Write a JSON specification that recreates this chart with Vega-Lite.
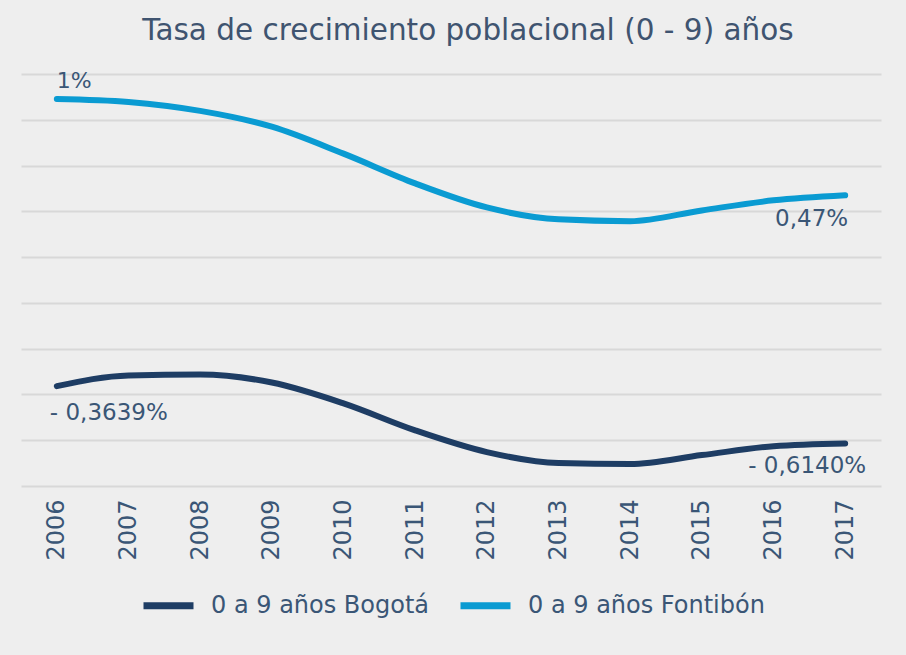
{
  "$schema": "https://vega.github.io/schema/vega-lite/v6.json",
  "autosize": {"type": "none"},
  "width": 860,
  "height": 412,
  "padding": {"top": 74, "left": 21, "right": 25, "bottom": 169},
  "background": "#eeeeee",
  "title": {
    "text": "Tasa de crecimiento poblacional (0 - 9) años",
    "font": "DejaVu Sans",
    "fontSize": 29.5,
    "fontWeight": "normal",
    "color": "#3f5470",
    "anchor": "middle",
    "dx": 17,
    "offset": 23
  },
  "config": {
    "view": {"stroke": null},
    "font": "DejaVu Sans"
  },
  "datasets": {
    "series": [
      {"year": "2006", "serie": "0 a 9 años Bogotá", "value": -0.3639},
      {"year": "2007", "serie": "0 a 9 años Bogotá", "value": -0.317},
      {"year": "2008", "serie": "0 a 9 años Bogotá", "value": -0.313},
      {"year": "2009", "serie": "0 a 9 años Bogotá", "value": -0.348},
      {"year": "2010", "serie": "0 a 9 años Bogotá", "value": -0.439},
      {"year": "2011", "serie": "0 a 9 años Bogotá", "value": -0.557},
      {"year": "2012", "serie": "0 a 9 años Bogotá", "value": -0.652},
      {"year": "2013", "serie": "0 a 9 años Bogotá", "value": -0.700},
      {"year": "2014", "serie": "0 a 9 años Bogotá", "value": -0.704},
      {"year": "2015", "serie": "0 a 9 años Bogotá", "value": -0.665},
      {"year": "2016", "serie": "0 a 9 años Bogotá", "value": -0.626},
      {"year": "2017", "serie": "0 a 9 años Bogotá", "value": -0.614},
      {"year": "2006", "serie": "0 a 9 años Fontibón", "value": 0.891},
      {"year": "2007", "serie": "0 a 9 años Fontibón", "value": 0.878},
      {"year": "2008", "serie": "0 a 9 años Fontibón", "value": 0.839},
      {"year": "2009", "serie": "0 a 9 años Fontibón", "value": 0.770},
      {"year": "2010", "serie": "0 a 9 años Fontibón", "value": 0.652},
      {"year": "2011", "serie": "0 a 9 años Fontibón", "value": 0.522},
      {"year": "2012", "serie": "0 a 9 años Fontibón", "value": 0.417},
      {"year": "2013", "serie": "0 a 9 años Fontibón", "value": 0.365},
      {"year": "2014", "serie": "0 a 9 años Fontibón", "value": 0.357},
      {"year": "2015", "serie": "0 a 9 años Fontibón", "value": 0.404},
      {"year": "2016", "serie": "0 a 9 años Fontibón", "value": 0.448},
      {"year": "2017", "serie": "0 a 9 años Fontibón", "value": 0.470}
    ],
    "labels": [
      {"year": "2006", "value": 0.891, "label": "1%", "pos": "topstart"},
      {"year": "2006", "value": -0.3639, "label": "- 0,3639%", "pos": "bottomstart"},
      {"year": "2017", "value": 0.470, "label": "0,47%", "pos": "bottomend"},
      {"year": "2017", "value": -0.614, "label": "- 0,6140%", "pos": "bottomend2"}
    ]
  },
  "layer": [
    {
      "data": {"name": "series"},
      "mark": {"type": "line", "interpolate": "monotone", "strokeWidth": 6, "strokeCap": "round"},
      "encoding": {
        "x": {
          "field": "year", "type": "ordinal",
          "scale": {"type": "point", "padding": 0.5},
          "axis": {
            "title": null, "labelAngle": -90, "labelAlign": "right", "labelBaseline": "middle",
            "labelFontSize": 24, "labelColor": "#3a5676", "labelPadding": 13,
            "ticks": false, "domain": false, "grid": false
          }
        },
        "y": {
          "field": "value", "type": "quantitative",
          "scale": {"domain": [-0.8, 1.0], "nice": false, "zero": false},
          "axis": {
            "title": null, "labels": false, "ticks": false, "domain": false,
            "values": [-0.8, -0.6, -0.4, -0.2, 0, 0.2, 0.4, 0.6, 0.8, 1.0],
            "grid": true, "gridColor": "#d8d8d8", "gridWidth": 2
          }
        },
        "color": {
          "field": "serie", "type": "nominal",
          "scale": {"domain": ["0 a 9 años Bogotá", "0 a 9 años Fontibón"], "range": ["#1e3d64", "#0a9bd2"]},
          "legend": {
            "title": null, "orient": "none", "legendX": 119, "legendY": 503,
            "direction": "horizontal", "symbolType": "stroke", "symbolSize": 2500,
            "symbolStrokeWidth": 7, "labelFontSize": 24, "labelColor": "#3a5676",
            "labelOffset": 14, "columnPadding": 16, "labelLimit": 0
          }
        }
      }
    },
    {
      "data": {"name": "labels"},
      "transform": [{"filter": "datum.pos == 'topstart'"}],
      "mark": {"type": "text", "align": "left", "baseline": "bottom", "dy": -6, "fontSize": 22, "color": "#3a5676"},
      "encoding": {
        "x": {"field": "year", "type": "ordinal"},
        "y": {"field": "value", "type": "quantitative"},
        "text": {"field": "label"}
      }
    },
    {
      "data": {"name": "labels"},
      "transform": [{"filter": "datum.pos == 'bottomstart'"}],
      "mark": {"type": "text", "align": "left", "baseline": "top", "dx": -7, "dy": 16, "fontSize": 23, "color": "#3a5676"},
      "encoding": {
        "x": {"field": "year", "type": "ordinal"},
        "y": {"field": "value", "type": "quantitative"},
        "text": {"field": "label"}
      }
    },
    {
      "data": {"name": "labels"},
      "transform": [{"filter": "datum.pos == 'bottomend'"}],
      "mark": {"type": "text", "align": "right", "baseline": "top", "dx": 3, "dy": 13, "fontSize": 23, "color": "#3a5676"},
      "encoding": {
        "x": {"field": "year", "type": "ordinal"},
        "y": {"field": "value", "type": "quantitative"},
        "text": {"field": "label"}
      }
    },
    {
      "data": {"name": "labels"},
      "transform": [{"filter": "datum.pos == 'bottomend2'"}],
      "mark": {"type": "text", "align": "right", "baseline": "top", "dx": 21, "dy": 12, "fontSize": 23, "color": "#3a5676"},
      "encoding": {
        "x": {"field": "year", "type": "ordinal"},
        "y": {"field": "value", "type": "quantitative"},
        "text": {"field": "label"}
      }
    }
  ]
}
